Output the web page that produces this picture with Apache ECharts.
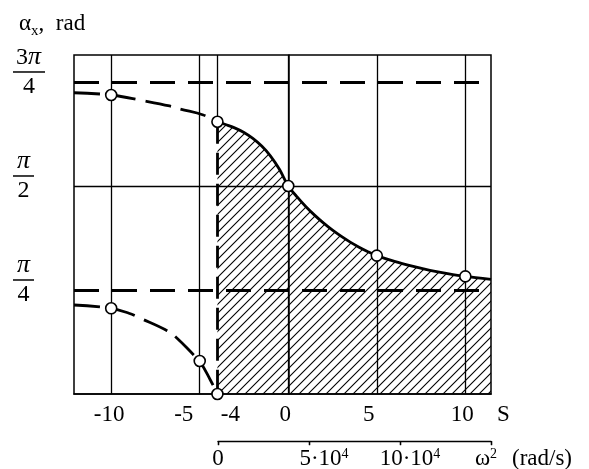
<!DOCTYPE html>
<html>
<head>
<meta charset="utf-8">
<script src="https://cdn.jsdelivr.net/npm/echarts@6/dist/echarts.min.js"></script>
<style>
html, body { margin: 0; padding: 0; background: #fff; }
#main { width: 589px; height: 469px; }
</style>
</head>
<body>
<div id="main"></div>
<script>
// axis ranges and ticks
var sMin = -12.1, sMax = 11.45, aMax = 2.56;
var sLabels = [-10, -5, -4, 0, 5, 10];
var sGridLines = [-10, -5, 0, 5, 10];
var sBranch = -4;
var aTicks = [Math.PI / 4, Math.PI / 2, 3 * Math.PI / 4];
var aNum = ['π', 'π', '3π'];
var aDen = ['4', '2', '4'];
var wTicks = [0, 50000, 100000, 150000];
var wBase = ['0', '5·10', '10·10', 'ω'];
var wSup = ['', '4', '4', '2'];

// curves (S, alpha_x in rad)
var rightS = [-4, -3.5, -3, -2.5, -2, -1.5, -1, -0.5, 0, 0.5, 1, 1.5, 2, 2.5, 3, 3.5, 4, 4.5, 5, 6, 7, 8, 9, 10, 11.45];
var rightA = [2.056, 2.033, 2.008, 1.975, 1.930, 1.872, 1.797, 1.697, 1.571, 1.488, 1.414, 1.349, 1.290, 1.237, 1.190, 1.147, 1.109, 1.075, 1.045, 1.001, 0.965, 0.934, 0.909, 0.888, 0.866];
var upperS = [-12.1, -10, -8.2, -6.7, -6.1, -4.8, -4];
var upperA = [2.275, 2.258, 2.215, 2.175, 2.152, 2.107, 2.056];
var lowerS = [-12.1, -10, -9, -8.35, -6.84, -6.28, -5.34, -5, -4.4, -4];
var lowerA = [0.672, 0.647, 0.61, 0.572, 0.478, 0.421, 0.295, 0.249, 0.106, 0];
var markS = [-10, -4, 0, 5, 10, -10, -5, -4];
var markA = [2.258, 2.056, 1.571, 1.045, 0.888, 0.647, 0.249, 0];

function pairs(xs, ys) {
    return xs.map(function (x, i) { return [x, ys[i]]; });
}

var serif = 'Liberation Serif';
var fs = 23;

// hatch pattern for the shaded region
var hatch = document.createElement('canvas');
hatch.width = 9;
hatch.height = 9;
var ctx = hatch.getContext('2d');
ctx.strokeStyle = '#000';
ctx.lineWidth = 1.1;
ctx.beginPath();
ctx.moveTo(-1, 10); ctx.lineTo(10, -1);
ctx.moveTo(-1, 1); ctx.lineTo(1, -1);
ctx.moveTo(8, 10); ctx.lineTo(10, 8);
ctx.stroke();

// small horizontal nudges of tick labels, as in the picture
var sShift = { '-10': -2, '-5': -16, '-4': 13, '0': -3, '5': -8, '10': -3 };
var wShift = [0, 15, 10, -5];

function pad(d, left, right) {
    return [0, right && d < 0 ? -2 * d : 0, 0, left && d > 0 ? 2 * d : 0];
}

var sRich = {};
sLabels.forEach(function (v, i) {
    var d = sShift[String(v)] || 0;
    sRich['s' + i] = { fontSize: fs, fontFamily: serif, color: '#000', padding: pad(d, true, true) };
});

var wRich = {};
wTicks.forEach(function (v, i) {
    var d = wShift[i];
    wRich['w' + i] = {
        fontSize: fs, fontFamily: serif, color: '#000', lineHeight: 24,
        padding: pad(d, true, !wSup[i])
    };
    wRich['x' + i] = {
        fontSize: 14, fontFamily: serif, color: '#000', lineHeight: 24, verticalAlign: 'top',
        padding: pad(d, false, true)
    };
});

function nearest(arr, v) {
    var best = 0;
    arr.forEach(function (t, i) { if (Math.abs(t - v) < Math.abs(arr[best] - v)) best = i; });
    return best;
}

var chart = echarts.init(document.getElementById('main'));

var thin = { color: '#000', width: 1.3, type: 'solid' };
var thick = { color: '#000', width: 2.8, type: [25, 13] };

var guides = [];
sGridLines.forEach(function (s) {
    guides.push([{ coord: [s, 0], lineStyle: thin }, { coord: [s, aMax] }]);
});
guides.push([{ coord: [sMin, aTicks[1]], lineStyle: thin }, { coord: [sMax, aTicks[1]] }]);
guides.push([{ coord: [sMin, aTicks[0]], lineStyle: thick }, { coord: [sMax, aTicks[0]] }]);
guides.push([{ coord: [sMin, aTicks[2]], lineStyle: thick }, { coord: [sMax, aTicks[2]] }]);
guides.push([{ coord: [sBranch, aMax], lineStyle: thin }, { coord: [sBranch, rightA[0]] }]);
guides.push([{ coord: [sBranch, rightA[0]], lineStyle: { color: '#000', width: 2.8, type: [22, 9] } }, { coord: [sBranch, 0] }]);

var option = {
    animation: false,
    backgroundColor: '#fff',
    title: {
        text: '{a|α}{s|x}{a|,  rad}',
        left: 14,
        top: 4,
        textStyle: {
            fontWeight: 'normal',
            rich: {
                a: { fontSize: fs, fontFamily: serif, fontWeight: 'normal', color: '#000', lineHeight: 30, verticalAlign: 'middle' },
                s: { fontSize: 15, fontFamily: serif, fontWeight: 'normal', color: '#000', lineHeight: 15, verticalAlign: 'bottom' }
            }
        }
    },
    grid: [
        { left: 74, right: 98, top: 55, bottom: 75, show: true, borderColor: '#000', borderWidth: 1.5 },
        { left: 218, right: 98, top: 441, height: 1, show: false }
    ],
    xAxis: [
        {
            type: 'value', gridIndex: 0, min: sMin, max: sMax,
            axisLine: { show: true, lineStyle: { color: '#000', width: 1.5 } },
            axisTick: { show: false },
            splitLine: { show: false },
            axisLabel: {
                customValues: sLabels,
                margin: 9,
                formatter: function (v) {
                    var i = nearest(sLabels, v);
                    return '{s' + i + '|' + sLabels[i] + '}';
                },
                rich: sRich
            },
            name: 'S',
            nameLocation: 'end',
            nameGap: 6,
            nameTextStyle: { fontSize: fs, fontFamily: serif, color: '#000', verticalAlign: 'top', padding: [9, 0, 0, 0] }
        },
        {
            type: 'value', gridIndex: 1, min: 0, max: 150000, interval: 50000,
            axisLine: { show: true, lineStyle: { color: '#000', width: 1.3 } },
            axisTick: { show: true, length: 4, lineStyle: { color: '#000', width: 1.3 } },
            splitLine: { show: false },
            axisLabel: {
                margin: 6,
                showMinLabel: true, showMaxLabel: true,
                formatter: function (v) {
                    var i = nearest(wTicks, v);
                    var s = '{w' + i + '|' + wBase[i] + '}';
                    if (wSup[i]) s += '{x' + i + '|' + wSup[i] + '}';
                    return s;
                },
                rich: wRich
            },
            name: '(rad/s)',
            nameLocation: 'end',
            nameGap: 21,
            nameTextStyle: { fontSize: fs, fontFamily: serif, color: '#000', verticalAlign: 'top', padding: [6, 0, 0, 0] }
        },
        {
            type: 'value', gridIndex: 1, min: 0, max: 150000, interval: 50000,
            axisLine: { show: false },
            axisTick: { show: true, inside: true, length: 4, lineStyle: { color: '#000', width: 1.3 } },
            splitLine: { show: false },
            axisLabel: { show: false }
        }
    ],
    yAxis: [
        {
            type: 'value', gridIndex: 0, min: 0, max: aMax,
            axisLine: { show: true, lineStyle: { color: '#000', width: 1.5 } },
            axisTick: { show: false },
            splitLine: { show: false },
            axisLabel: {
                customValues: aTicks,
                align: 'left',
                margin: 61,
                formatter: function (v) {
                    var i = nearest(aTicks, v);
                    var w = aNum[i].length > 1 ? 'w' : 'n';
                    var top = aNum[i].length > 1 ? '{t3|3}{pi|π}' : '{pn|π}';
                    return top + '\n{b' + w + '| }\n{d' + w + '|' + aDen[i] + '}\n{e| }';
                },
                rich: {
                    t3: { fontSize: 24, fontFamily: serif, color: '#000', lineHeight: 23, padding: [0, 0, 0, 3] },
                    pi: { fontSize: 26, fontFamily: serif, fontStyle: 'italic', color: '#000', lineHeight: 23 },
                    pn: { fontSize: 26, fontFamily: serif, fontStyle: 'italic', color: '#000', lineHeight: 23, width: 21, align: 'center' },
                    bw: { width: 32, height: 1.5, fontSize: 2, lineHeight: 6, backgroundColor: '#000' },
                    bn: { width: 21, height: 1.5, fontSize: 2, lineHeight: 6, backgroundColor: '#000' },
                    dw: { fontSize: 24, fontFamily: serif, color: '#000', lineHeight: 23, width: 32, align: 'center' },
                    dn: { fontSize: 24, fontFamily: serif, color: '#000', lineHeight: 23, width: 21, align: 'center' },
                    e: { fontSize: 2, lineHeight: 20 }
                }
            }
        },
        { type: 'value', gridIndex: 1, show: false, min: 0, max: 1 }
    ],
    series: [
        {
            name: 'guides', type: 'line', xAxisIndex: 0, yAxisIndex: 0,
            data: [[0, aTicks[1]]], symbol: 'none', lineStyle: { width: 0 },
            z: 3, silent: true,
            markLine: { symbol: 'none', silent: true, label: { show: false }, data: guides }
        },
        {
            name: 'right', type: 'line', xAxisIndex: 0, yAxisIndex: 0,
            data: pairs(rightS, rightA), smooth: 0.3, showSymbol: false, symbol: 'none',
            lineStyle: { color: '#000', width: 2.8 },
            areaStyle: { color: { image: hatch, repeat: 'repeat' }, opacity: 1 },
            z: 2
        },
        {
            name: 'upper', type: 'line', xAxisIndex: 0, yAxisIndex: 0,
            data: pairs(upperS, upperA), smooth: 0.4, showSymbol: false, symbol: 'none',
            lineStyle: { color: '#000', width: 2.8, type: [26, 10] },
            z: 4
        },
        {
            name: 'lower', type: 'line', xAxisIndex: 0, yAxisIndex: 0,
            data: pairs(lowerS, lowerA), smooth: 0.4, showSymbol: false, symbol: 'none',
            lineStyle: { color: '#000', width: 2.8, type: [26, 10] },
            z: 4
        },
        {
            name: 'points', type: 'scatter', xAxisIndex: 0, yAxisIndex: 0,
            data: pairs(markS, markA), symbol: 'circle', symbolSize: 11, clip: false,
            itemStyle: { color: '#fff', borderColor: '#000', borderWidth: 1.6, opacity: 1 },
            z: 10
        }
    ]
};

chart.setOption(option);
window.addEventListener('resize', function () {
    chart.resize();
});
</script>
</body>
</html>
